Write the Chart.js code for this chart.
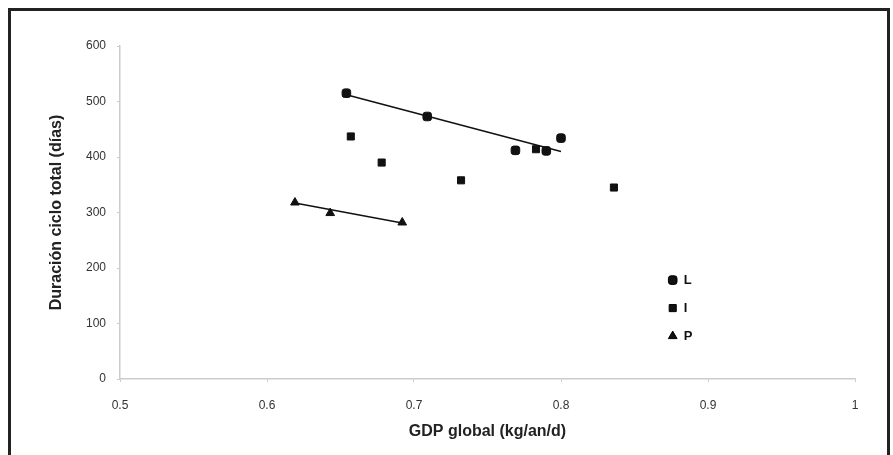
<!DOCTYPE html>
<html>
<head>
<meta charset="utf-8">
<script src="https://cdn.jsdelivr.net/npm/chart.js@4.4.0/dist/chart.umd.min.js"></script>
<style>
    html, body { margin: 0; padding: 0; background: #fff; }
    .wrap { position: relative; width: 893px; height: 455px; overflow: hidden; }
    .frame { position: absolute; left: 8px; top: 8px; width: 882px; height: 460px;
             border: 3px solid #222; box-sizing: border-box; }
    canvas { position: absolute; left: 0; top: 0; }
</style>
</head>
<body>
<div class="wrap">
    <canvas id="chart" width="893" height="455"></canvas>
    <div class="frame"></div>
</div>
<script>
// series
const lX = [0.654, 0.709, 0.769, 0.790, 0.800];
const lY = [515, 473, 412, 411, 434];
const iX = [0.657, 0.678, 0.732, 0.783, 0.836];
const iY = [437, 390, 358, 414, 345];
const pX = [0.619, 0.643, 0.692];
const pY = [318, 299, 282];

// trend line endpoints
const lTrendX = [0.654, 0.800];
const lTrendY = [512, 410];
const pTrendX = [0.619, 0.692];
const pTrendY = [317, 281];

const xTicks = [0.5, 0.6, 0.7, 0.8, 0.9, 1];
const yTicks = [0, 100, 200, 300, 400, 500, 600];

const legendNames = ['L', 'I', 'P'];

function toPoints(xs, ys) {
    return xs.map((x, i) => ({ x: x, y: ys[i] }));
}

const FONT = '"Liberation Sans", Arial, sans-serif';
const INK = '#111';

// legend drawn inside the plot, right side
const innerLegend = {
    id: 'innerLegend',
    afterDraw(chart) {
        const ctx = chart.ctx;
        const area = chart.chartArea;
        const x0 = area.left + area.width * 0.752;
        let y0 = area.top + area.height * 0.703;
        ctx.save();
        ctx.font = 'bold 13px ' + FONT;
        ctx.textBaseline = 'middle';
        ctx.fillStyle = INK;
        chart.data.datasets.forEach(ds => {
            if (!ds.inLegend) return;
            Chart.helpers.drawPoint(ctx, {
                pointStyle: ds.pointStyle, radius: ds.pointRadius, rotation: 0, borderWidth: 1
            }, x0, y0);
            ctx.fillStyle = INK;
            ctx.fillText(ds.label, x0 + 11, y0);
            y0 += 28;
        });
        ctx.restore();
    }
};

const ctx = document.getElementById('chart').getContext('2d');
new Chart(ctx, {
    type: 'scatter',
    data: {
        datasets: [
            {
                label: legendNames[0], inLegend: true,
                data: toPoints(lX, lY),
                pointStyle: 'rectRounded', pointRadius: 5,
                backgroundColor: INK, borderColor: INK, borderWidth: 1
            },
            {
                label: legendNames[1], inLegend: true,
                data: toPoints(iX, iY),
                pointStyle: 'rect', pointRadius: 5,
                backgroundColor: INK, borderColor: INK, borderWidth: 1
            },
            {
                label: legendNames[2], inLegend: true,
                data: toPoints(pX, pY),
                pointStyle: 'triangle', pointRadius: 5,
                backgroundColor: INK, borderColor: INK, borderWidth: 1
            },
            {
                label: 'L trend',
                data: toPoints(lTrendX, lTrendY),
                showLine: true, pointRadius: 0,
                borderColor: INK, borderWidth: 1.5
            },
            {
                label: 'P trend',
                data: toPoints(pTrendX, pTrendY),
                showLine: true, pointRadius: 0,
                borderColor: INK, borderWidth: 1.5
            }
        ]
    },
    options: {
        responsive: false,
        animation: false,
        layout: { padding: { top: 46, right: 38, left: 0, bottom: 0 } },
        plugins: {
            legend: { display: false },
            tooltip: { enabled: false }
        },
        scales: {
            x: {
                type: 'linear',
                min: 0.5, max: 1,
                afterBuildTicks: s => { s.ticks = xTicks.map(v => ({ value: v })); },
                afterFit: s => { s.height = 76; },
                ticks: {
                    color: '#333',
                    font: { family: FONT, size: 12 },
                    padding: 16,
                    callback: v => String(v)
                },
                grid: { display: true, drawOnChartArea: false, tickLength: 3, color: '#ccc' },
                border: { color: '#ccc', width: 1.5 },
                title: {
                    display: true,
                    text: 'GDP global (kg/an/d)',
                    color: '#222',
                    font: { family: FONT, size: 16, weight: 'bold' },
                    padding: { top: 0, bottom: 14 }
                }
            },
            y: {
                min: 0, max: 600,
                afterBuildTicks: s => { s.ticks = yTicks.map(v => ({ value: v })); },
                afterFit: s => { s.width = 120; },
                ticks: {
                    color: '#333',
                    font: { family: FONT, size: 12 },
                    padding: 11
                },
                grid: { display: true, drawOnChartArea: false, tickLength: 3, color: '#ccc' },
                border: { color: '#ccc', width: 1.5 },
                title: {
                    display: true,
                    text: 'Duración ciclo total (días)',
                    color: '#222',
                    font: { family: FONT, size: 16, weight: 'bold' },
                    padding: { top: 47, bottom: 0 }
                }
            }
        }
    },
    plugins: [innerLegend]
});
</script>
</body>
</html>
